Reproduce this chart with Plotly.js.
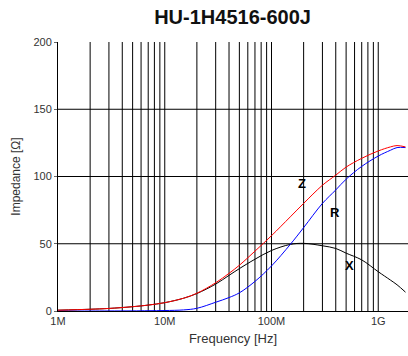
<!DOCTYPE html>
<html>
<head>
<meta charset="utf-8">
<script src="https://cdn.plot.ly/plotly-3.0.1.min.js"></script>
<style>
html,body{margin:0;padding:0;background:#fff;}
#chart{width:408px;height:356px;}
.js-plotly-plot .plotly .gridlayer path{shape-rendering:geometricPrecision !important;}
</style>
</head>
<body>
<div id="chart"></div>
<script>
// Frequency in MHz
const freqMHz = [1, 2, 3, 5, 7, 10, 15, 20, 30, 40, 50, 70, 100, 150, 200, 300, 400, 500, 700, 1000, 1300, 1500, 1800];
const impZ = [0.6, 1.3, 1.9, 3.2, 4.4, 6.2, 9.5, 13.2, 21, 28, 34, 44.5, 56, 70, 80, 93.5, 101, 107, 113.5, 119, 122, 123, 122];
const impR = [0, 0, 0.05, 0.1, 0.2, 0.35, 0.8, 2, 6.5, 10, 13.5, 22, 33.5, 49.5, 62, 80, 90, 98, 107.5, 115.2, 119.5, 121.5, 121.5];
const impX = [0.6, 1.3, 1.9, 3.2, 4.4, 6.2, 9.5, 13, 20, 26.5, 31.5, 38.5, 45, 49.5, 50.3, 48.5, 46.5, 43, 38, 29.2, 23, 19.5, 14];
const majorTickVals = [1e6, 1e7, 1e8, 1e9];
const majorTickText = ['1M', '10M', '100M', '1G'];
const yTickVals = [0, 50, 100, 150, 200];
const titleText = 'HU-1H4516-600J';

const freqHz = freqMHz.map(f => f * 1e6);

// all 1..9 x decade grid positions
const gridVals = [];
const gridText = [];
for (let d = 6; d <= 9; d++) {
  for (let m = 1; m <= 9; m++) {
    const v = m * Math.pow(10, d);
    if (v > 1.9e9) break;
    gridVals.push(v);
    const idx = majorTickVals.indexOf(v);
    gridText.push(idx >= 0 ? majorTickText[idx] : '');
  }
}

const traces = [
  {x: freqHz, y: impX, mode: 'lines', line: {color: '#000000', width: 1, shape: 'spline'}, name: 'X'},
  {x: freqHz, y: impR, mode: 'lines', line: {color: '#0000ff', width: 1, shape: 'spline'}, name: 'R'},
  {x: freqHz, y: impZ, mode: 'lines', line: {color: '#ff0000', width: 1, shape: 'spline'}, name: 'Z'}
];

const fontFam = 'Liberation Sans, Arial, sans-serif';
const layout = {
  width: 408, height: 356,
  margin: {l: 58, r: 0, t: 42, b: 45},
  paper_bgcolor: '#ffffff', plot_bgcolor: '#ffffff',
  showlegend: false,
  title: {text: '<b>' + titleText + '</b>', x: 0.57, xanchor: 'center', y: 0.951, yanchor: 'middle',
          font: {family: fontFam, size: 20, color: '#111'}},
  xaxis: {
    type: 'log', range: [6, Math.log10(1.9e9)],
    tickmode: 'array', tickvals: gridVals, ticktext: gridText,
    showgrid: true, gridcolor: '#000000', gridwidth: 1,
    showline: true, linecolor: '#000', linewidth: 1,
    ticks: '', zeroline: false,
    tickfont: {family: fontFam, size: 11, color: '#333'},
    title: {text: 'Frequency [Hz]', font: {family: fontFam, size: 13, color: '#333'}, standoff: 7}
  },
  yaxis: {
    range: [0, 200], tickmode: 'array', tickvals: yTickVals,
    showgrid: true, gridcolor: '#000000', gridwidth: 1,
    showline: true, linecolor: '#000', linewidth: 1,
    ticks: 'outside', ticklen: 3, tickcolor: '#666', tickwidth: 1, zeroline: false,
    tickfont: {family: fontFam, size: 11, color: '#333'},
    title: {text: 'Impedance [Ω]', font: {family: fontFam, size: 12, color: '#333'}, standoff: 10}
  },
  annotations: [
    {x: 8.287, y: 95, xref: 'x', yref: 'y', text: '<b>Z</b>', showarrow: false, font: {family: fontFam, size: 13, color: '#000'}},
    {x: 8.596, y: 73.5, xref: 'x', yref: 'y', text: '<b>R</b>', showarrow: false, font: {family: fontFam, size: 13, color: '#000'}},
    {x: 8.727, y: 33.5, xref: 'x', yref: 'y', text: '<b>X</b>', showarrow: false, font: {family: fontFam, size: 13, color: '#000'}}
  ]
};

Plotly.newPlot('chart', traces, layout, {displayModeBar: false, staticPlot: true});
</script>
</body>
</html>
